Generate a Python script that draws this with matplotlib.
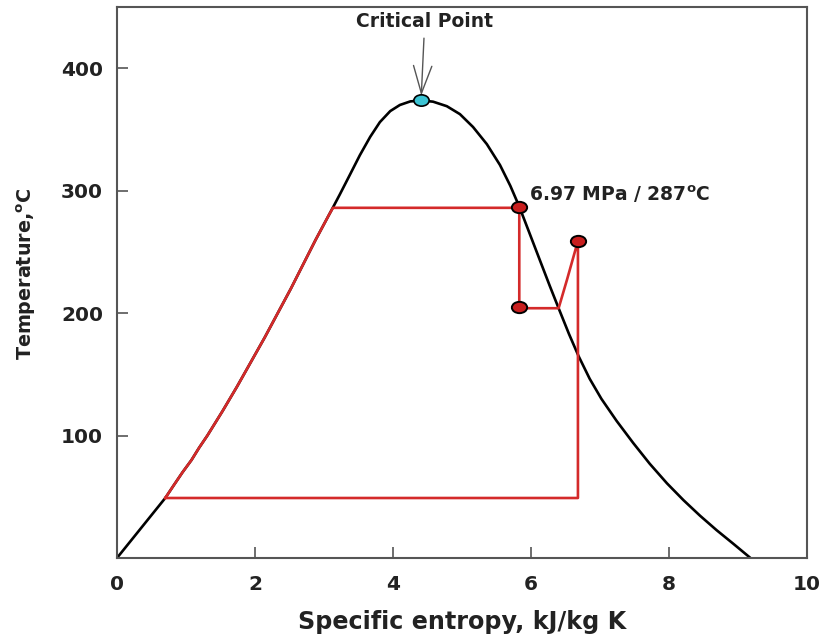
import matplotlib.pyplot as plt
from matplotlib.path import Path
from matplotlib.transforms import Affine2D

plt.rcParams["font.family"] = ["DejaVu Sans"]
plt.rcParams["mathtext.fontset"] = "dejavusans"

# saturation dome, traced from the liquid side over the top and down the vapour side
dome_s = [0.00, 0.70, 0.83, 0.95, 1.08, 1.19, 1.31, 1.53, 1.74, 1.94, 2.14,
          2.33, 2.52, 2.70, 2.88, 3.07, 3.13, 3.23, 3.38, 3.52, 3.67, 3.81,
          3.96, 4.10, 4.25, 4.41, 4.58, 4.78, 4.97, 5.16, 5.36, 5.55, 5.70,
          5.83, 5.97, 6.13, 6.27, 6.40, 6.55, 6.69, 6.85, 7.02, 7.24, 7.48,
          7.72, 7.97, 8.21, 8.45, 8.69, 8.93, 9.18]
dome_T = [0, 49, 60, 70, 80, 90, 100, 120, 140, 160, 180,
          200, 220, 240, 260, 280, 286.3, 297, 313.5, 329, 344, 356,
          365, 370, 372.9, 373.7, 372.7, 369, 362.5, 352, 338, 321, 304,
          287, 266.5, 243, 222.5, 204, 183, 164.8, 146.4, 130, 112, 94,
          77, 61, 47.2, 34.5, 22.7, 11.7, 0]
crit_s, crit_T = 4.41, 373.7

# power cycle (red)
cycle_s = [0.70, 0.83, 0.95, 1.08, 1.19, 1.31, 1.53, 1.74, 1.94, 2.14, 2.33,
           2.52, 2.70, 2.88, 3.07, 3.13, 5.83, 5.83, 6.40, 6.52, 6.68, 6.68,
           0.70]
cycle_T = [49, 60, 70, 80, 90, 100, 120, 140, 160, 180, 200, 220, 240, 260,
           280, 286, 286, 204, 204, 227, 259, 49, 49]

# state points marked on the cycle
state_s = [5.83, 5.83, 6.68]
state_T = [287, 205, 259]

ellipse = Path.unit_circle().transformed(Affine2D().scale(1.35, 1.0))

fig = plt.figure(figsize=(8.22, 6.38), dpi=100)
ax = fig.add_axes([0.1423, 0.1254, 0.8395, 0.8636])

ax.plot(dome_s, dome_T, color="black", lw=1.9, zorder=2)
ax.plot(cycle_s, cycle_T, color="#d42a2a", lw=1.9, zorder=3)
ax.plot(state_s, state_T, ls="none", marker=ellipse, ms=11,
        mfc="#c81e1e", mec="black", mew=1.4, zorder=4)
ax.plot([crit_s], [crit_T], ls="none", marker=ellipse, ms=11,
        mfc="#3cc4d4", mec="black", mew=1.2, zorder=5)

ax.annotate("Critical Point", xy=(crit_s, crit_T + 4), xytext=(4.46, 438),
            ha="center", va="center", fontsize=13.5, fontweight="bold",
            color="#222222",
            arrowprops=dict(arrowstyle="->, head_length=0.9, head_width=0.3",
                            color="#555555", lw=1.0, mutation_scale=22,
                            shrinkA=3, shrinkB=0))
ax.text(5.97, 297, r"6.97 MPa / 287$^\mathbf{o}$C", ha="left", va="center",
        fontsize=13.5, fontweight="bold", color="#222222")

ax.set_xlim(0, 10)
ax.set_ylim(0, 450)
ax.set_xticks([0, 2, 4, 6, 8, 10])
ax.set_yticks([100, 200, 300, 400])
ax.tick_params(direction="in", length=8, width=1.2, color="#555555",
               labelsize=14.5, pad=10)
ax.tick_params(axis="x", pad=12)
for lab in ax.get_xticklabels() + ax.get_yticklabels():
    lab.set_fontweight("bold")
    lab.set_color("#222222")
for sp in ax.spines.values():
    sp.set_color("#555555")
    sp.set_linewidth(1.5)

ax.set_xlabel("Specific entropy, kJ/kg K", fontsize=17.2, fontweight="bold",
              color="#222222", labelpad=12)
ax.set_ylabel(r"Temperature,$^\mathbf{o}$C", fontsize=13.8,
              fontweight="bold", color="#222222")
ax.yaxis.set_label_coords(-0.1145, 0.515)

fig.savefig("out.png", dpi=100, facecolor="white")
